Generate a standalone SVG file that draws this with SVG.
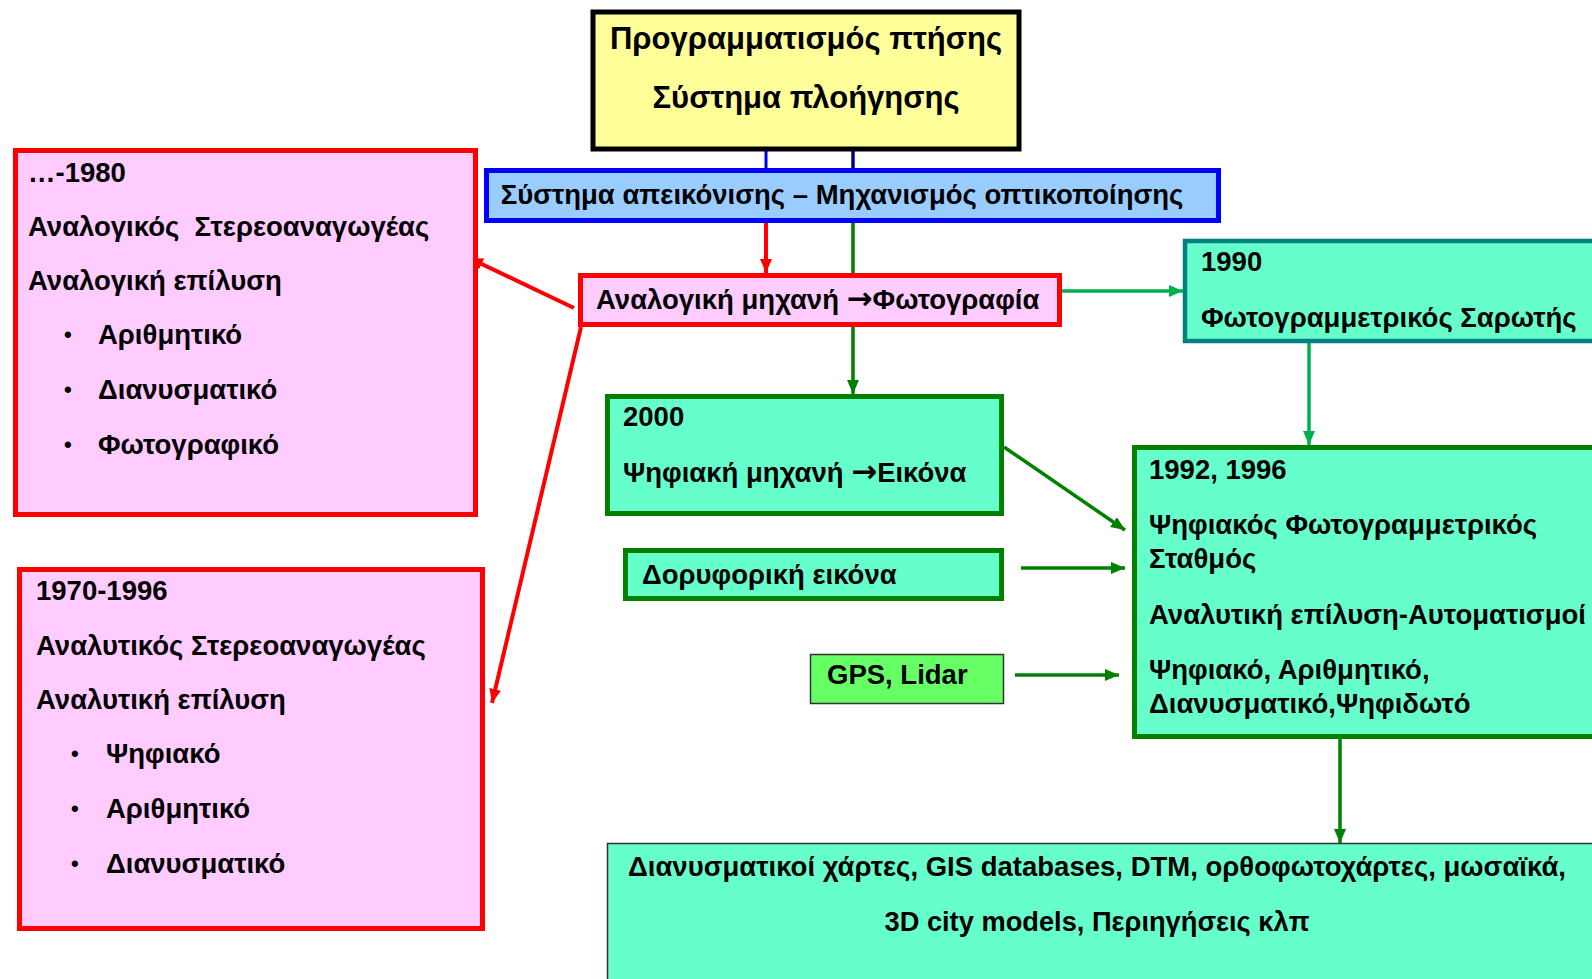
<svg xmlns="http://www.w3.org/2000/svg" width="1592" height="979" viewBox="0 0 1592 979">
<defs>
<style>
text{font-family:"Liberation Sans",Arial,sans-serif;font-weight:bold;font-size:27.5px;fill:#000}
.mid{text-anchor:middle}
.big{font-size:31px}
.arr{font-family:"DejaVu Sans",sans-serif;font-size:31px}
.bul{font-size:22px}
.pink{fill:#FFCCFF;stroke:#FF0000;stroke-width:5}
.mint{fill:#66FFCC;stroke:#008000;stroke-width:5}
.red{stroke:#FF0000;stroke-width:4;fill:none}
.dg{stroke:#008000;stroke-width:3.5;fill:none}
.mg{stroke:#00B050;stroke-width:3.5;fill:none}
.narrow{font-size:28px}
</style>
<marker id="ar" markerUnits="userSpaceOnUse" viewBox="0 0 14 12" refX="14" refY="6" markerWidth="14" markerHeight="12" orient="auto"><path d="M0,0L14,6L0,12z" fill="#FF0000"/></marker>
<marker id="ag" markerUnits="userSpaceOnUse" viewBox="0 0 14 12" refX="14" refY="6" markerWidth="14" markerHeight="12" orient="auto"><path d="M0,0L14,6L0,12z" fill="#008000"/></marker>
<marker id="am" markerUnits="userSpaceOnUse" viewBox="0 0 14 12" refX="14" refY="6" markerWidth="14" markerHeight="12" orient="auto"><path d="M0,0L14,6L0,12z" fill="#00B050"/></marker>
</defs>
<rect width="1592" height="979" fill="#FFFFFF"/>

<g id="connectors">
<line x1="766" y1="151" x2="766" y2="169" stroke="#0000FF" stroke-width="3"/>
<line x1="853" y1="151" x2="853" y2="169" stroke="#000080" stroke-width="3.5"/>
<line class="red" x1="766" y1="223" x2="766" y2="273" marker-end="url(#ar)"/>
<line class="dg" x1="853" y1="223" x2="853" y2="274"/>
<line class="dg" x1="853" y1="327" x2="853" y2="394" marker-end="url(#ag)"/>
<line class="mg" x1="1062" y1="291" x2="1183" y2="291" marker-end="url(#am)"/>
<line class="mg" x1="1309" y1="343" x2="1309" y2="445" marker-end="url(#am)"/>
<line class="dg" x1="1340" y1="739" x2="1340" y2="843" marker-end="url(#ag)"/>
<line class="dg" x1="1004" y1="447" x2="1125" y2="530" marker-end="url(#ag)"/>
<line class="dg" x1="1021" y1="568" x2="1125" y2="568" marker-end="url(#ag)"/>
<line class="dg" x1="1015" y1="675" x2="1119" y2="675" marker-end="url(#ag)"/>
<line class="red" x1="574" y1="308" x2="469" y2="258" marker-end="url(#ar)"/>
<line class="red" x1="581" y1="327" x2="492" y2="703" marker-end="url(#ar)"/>
</g>

<g id="flight">
<rect x="593" y="12" width="426" height="137" fill="#FFFF99" stroke="#000" stroke-width="5"/>
<text class="mid big" x="806" y="49">Προγραμματισμός πτήσης</text>
<text class="mid big" x="806" y="108">Σύστημα πλοήγησης</text>
</g>

<g id="display">
<rect x="486.5" y="170.5" width="732" height="50" fill="#99CCFF" stroke="#0000FF" stroke-width="5"/>
<text class="mid" x="842" y="204">Σύστημα απεικόνισης – Μηχανισμός οπτικοποίησης</text>
</g>

<g id="analog-camera">
<rect class="pink" x="580.5" y="275.5" width="479" height="49"/>
<text x="596" y="309">Αναλογική μηχανή <tspan class="arr">→</tspan>Φωτογραφία</text>
</g>

<g id="scanner">
<rect x="1185" y="241" width="420" height="100" fill="#66FFCC" stroke="#008080" stroke-width="4.5"/>
<text x="1201" y="271">1990</text>
<text x="1201" y="327">Φωτογραμμετρικός Σαρωτής</text>
</g>

<g id="digital-station">
<rect class="mint" x="1134.5" y="447.5" width="470" height="289"/>
<text x="1149" y="479">1992, 1996</text>
<text x="1149" y="534">Ψηφιακός Φωτογραμμετρικός</text>
<text x="1149" y="568">Σταθμός</text>
<text x="1149" y="624">Αναλυτική επίλυση-Αυτοματισμοί</text>
<text x="1149" y="679">Ψηφιακό, Αριθμητικό,</text>
<text x="1149" y="713">Διανυσματικό,Ψηφιδωτό</text>
</g>

<g id="products">
<rect x="607.5" y="843.5" width="1000" height="150" fill="#66FFCC" stroke="#333" stroke-width="1.5"/>
<text class="mid narrow" x="1097" y="876" textLength="938" lengthAdjust="spacingAndGlyphs">Διανυσματικοί χάρτες, GIS databases, DTM, ορθοφωτοχάρτες, μωσαϊκά,</text>
<text class="mid narrow" x="1097" y="931" textLength="425" lengthAdjust="spacingAndGlyphs">3D city models, Περιηγήσεις κλπ</text>
</g>

<g id="digital-camera">
<rect class="mint" x="607.5" y="396.5" width="394" height="117"/>
<text x="623" y="426">2000</text>
<text x="623" y="482">Ψηφιακή μηχανή <tspan class="arr">→</tspan>Εικόνα</text>
</g>

<g id="satellite">
<rect class="mint" x="625.5" y="550.5" width="376" height="48"/>
<text x="642" y="584">Δορυφορική εικόνα</text>
</g>

<g id="gps">
<rect x="810.5" y="654.5" width="193" height="49" fill="#66FF66" stroke="#333" stroke-width="1.5"/>
<text x="827" y="684">GPS, Lidar</text>
</g>

<g id="analog-plotter">
<rect class="pink" x="15.5" y="150.5" width="460" height="364"/>
<text x="28" y="182">…-1980</text>
<text x="28" y="236" xml:space="preserve">Αναλογικός  Στερεοαναγωγέας</text>
<text x="28" y="290">Αναλογική επίλυση</text>
<text class="bul" x="64" y="342">•</text><text x="98" y="344">Αριθμητικό</text>
<text class="bul" x="64" y="397">•</text><text x="98" y="399">Διανυσματικό</text>
<text class="bul" x="64" y="452">•</text><text x="98" y="454">Φωτογραφικό</text>
</g>

<g id="analytical-plotter">
<rect class="pink" x="19.5" y="569.5" width="463" height="359"/>
<text x="36" y="600">1970-1996</text>
<text x="36" y="655">Αναλυτικός Στερεοαναγωγέας</text>
<text x="36" y="709">Αναλυτική επίλυση</text>
<text class="bul" x="71" y="761">•</text><text x="106" y="763">Ψηφιακό</text>
<text class="bul" x="71" y="816">•</text><text x="106" y="818">Αριθμητικό</text>
<text class="bul" x="71" y="871">•</text><text x="106" y="873">Διανυσματικό</text>
</g>
</svg>
